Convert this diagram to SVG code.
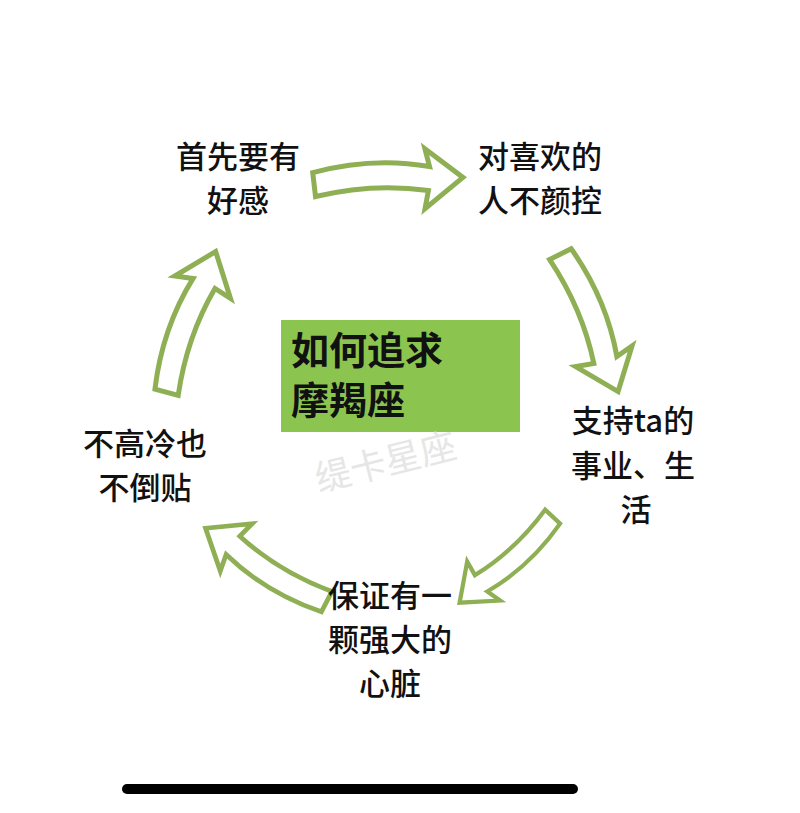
<svg xmlns="http://www.w3.org/2000/svg" width="800" height="813" viewBox="0 0 800 813">
<style>
.t{font-family:"Noto Sans CJK SC","Noto Sans",sans-serif;font-size:31px;font-weight:500;fill:#111;text-anchor:middle}
.h{font-family:"Noto Sans CJK SC",sans-serif;font-size:38px;font-weight:700;fill:#111}
.a{fill:#fff;stroke:#8faf55;stroke-width:5;stroke-linejoin:miter}
</style>
<defs>
<path id="arr" d="M-75,-10 Q-15,-24 42,-12 L38,-30 L75,0 L36,30 L40,12 Q-15,2 -73,14 Z"/>
</defs>
<rect width="800" height="813" fill="#fff"/>
<g id="connectors">
<use href="#arr" class="a" transform="translate(388,180) rotate(-2)"/>
<use href="#arr" class="a" transform="translate(590,322) rotate(68)"/>
<use href="#arr" class="a" transform="translate(507,560) rotate(138) scale(0.85)"/>
<use href="#arr" class="a" transform="translate(266,566) rotate(212) scale(0.95)"/>
<use href="#arr" class="a" transform="translate(190,322) rotate(-70)"/>
</g>
<g id="center">
<rect x="281" y="320" width="239" height="112" fill="#8bc54f"/>
<text class="h" x="291" y="364">如何追求</text>
<text class="h" x="291" y="414">摩羯座</text>
</g>
<text x="385" y="475" transform="rotate(-14 385 460)" style="font-family:'Noto Sans CJK SC',sans-serif;font-size:36px;fill:#e6e6e6;text-anchor:middle">缇卡星座</text>
<g id="n1"><text class="t" x="238" y="168">首先要有</text><text class="t" x="238" y="212">好感</text></g>
<g id="n2"><text class="t" x="540" y="168">对喜欢的</text><text class="t" x="540" y="212">人不颜控</text></g>
<g id="n3"><text class="t" x="633" y="432">支持ta的</text><text class="t" x="633" y="477">事业、生</text><text class="t" x="636" y="521">活</text></g>
<g id="n4"><text class="t" x="390" y="607">保证有一</text><text class="t" x="390" y="651">颗强大的</text><text class="t" x="390" y="695">心脏</text></g>
<g id="n5"><text class="t" x="145" y="455">不高冷也</text><text class="t" x="145" y="499">不倒贴</text></g>
<line x1="127" y1="789" x2="573" y2="789" stroke="#000" stroke-width="10" stroke-linecap="round"/>
</svg>
